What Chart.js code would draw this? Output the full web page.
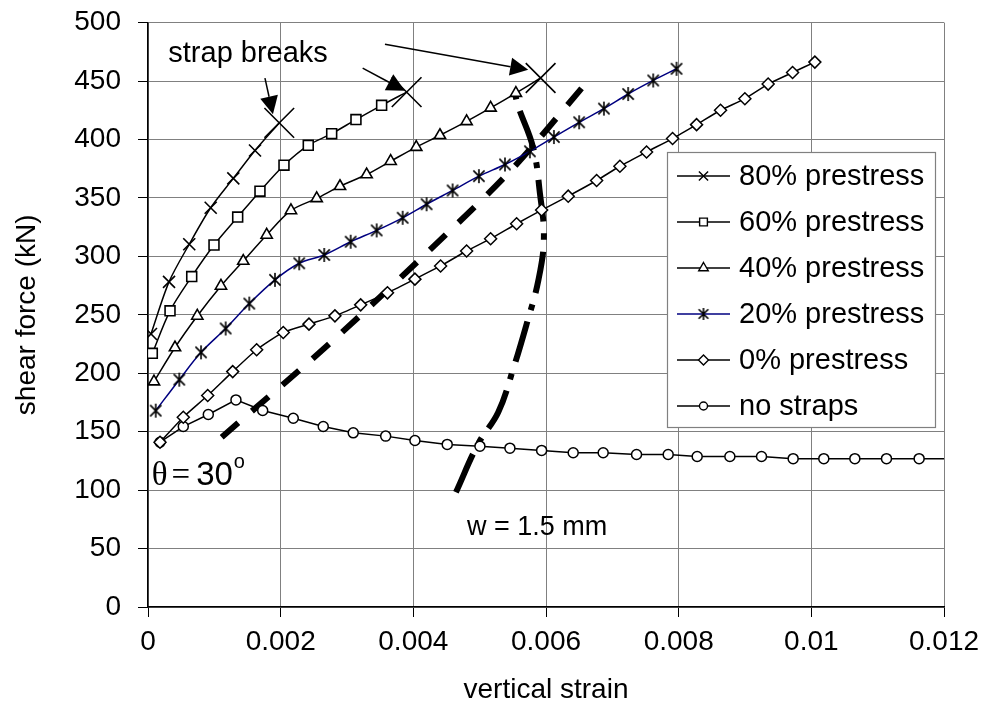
<!DOCTYPE html>
<html>
<head>
<meta charset="utf-8">
<script src="https://cdn.jsdelivr.net/npm/chart.js@4.4.1/dist/chart.umd.min.js"></script>
<style>
  body { margin: 0; background: #fff; }
  canvas { display: block; }
</style>
</head>
<body>
<canvas id="chart" width="990" height="713"></canvas>
<script>
// values (strain, shear force in kN)
const strain80 = [0.000045, 0.000317, 0.000622, 0.000945, 0.001286, 0.001613, 0.001979];
const shear80  = [233.6, 278.2, 310.4, 341.6, 366.7, 390.6, 414.2];

const strain60 = [0.000065, 0.000332, 0.000659, 0.000995, 0.001352, 0.001688, 0.00205, 0.002416, 0.002769, 0.003135, 0.003522, 0.003899];
const shear60  = [217, 253.4, 282.7, 309.7, 333.6, 355.8, 378, 395, 405, 417, 429.2, 440.5];

const strain40 = [0.00009, 0.000407, 0.000743, 0.0011, 0.001436, 0.001789, 0.002155, 0.002543, 0.002894, 0.003296, 0.003658, 0.004044, 0.004401, 0.004803, 0.005165, 0.005546, 0.005919];
const shear40  = [192.8, 222, 249, 274.7, 296, 318.3, 339.3, 349.6, 360, 370, 381.4, 393.5, 403.6, 415.5, 427, 439.7, 452.6];

const strain20 = [0.000116, 0.000472, 0.000799, 0.001171, 0.001527, 0.001914, 0.00228, 0.002657, 0.003055, 0.003447, 0.003839, 0.0042, 0.004592, 0.004989, 0.005381, 0.005757, 0.006119, 0.0065, 0.006873, 0.007239, 0.007616, 0.007968];
const shear20  = [168, 194.5, 217.9, 238.3, 259.6, 279.9, 294.1, 301.2, 312.5, 322.2, 333, 344.6, 356.4, 368.6, 378.6, 389.9, 402.1, 414.7, 426.4, 438.9, 450.5, 460.5];

const strain0 = [0.000181, 0.000532, 0.0009, 0.001277, 0.001638, 0.002039, 0.002427, 0.002818, 0.003206, 0.00361, 0.004024, 0.004411, 0.004803, 0.005165, 0.005557, 0.005934, 0.006335, 0.006763, 0.007114, 0.007516, 0.007908, 0.00827, 0.008631, 0.008998, 0.009349, 0.009717, 0.010053];
const shear0  = [141, 162.4, 180.9, 201.4, 220.1, 234.9, 242, 249.1, 258.5, 268.8, 280.5, 291.8, 304.6, 315.1, 327.9, 339.6, 351.5, 364.9, 377.1, 389.3, 400.8, 412.7, 425, 434.9, 447.4, 457.3, 466.2];

const strainNo = [0.000181, 0.000532, 0.000909, 0.001326, 0.001729, 0.00219, 0.002642, 0.003094, 0.003583, 0.004024, 0.004511, 0.005004, 0.005456, 0.005934, 0.00641, 0.006862, 0.007365, 0.007842, 0.008279, 0.008772, 0.009249, 0.009726, 0.010188, 0.010656, 0.011133, 0.011625, 0.012264];
const shearNo  = [141, 154.4, 164.7, 177.2, 168.1, 161.5, 154.4, 149, 146.2, 142.5, 139.1, 137.6, 135.9, 134, 132, 132, 130.5, 130.5, 128.8, 128.8, 128.8, 126.9, 126.9, 126.9, 126.9, 126.9, 126.9];

// thick guide lines: constant crack angle and constant crack width
const strainTheta = [0.001111, 0.002784, 0.004627, 0.005531, 0.006536];
const shearTheta  = [145.3, 227.8, 326, 377.2, 443.7];

const strainWidth = [0.004642, 0.004978, 0.00528, 0.005506, 0.005708, 0.005883, 0.005968, 0.005908, 0.005807, 0.005581, 0.005532];
const shearWidth  = [98.1, 139.7, 166.6, 203.7, 242.1, 279, 315.7, 354.1, 392.8, 428.3, 439.4];

const xTicks = [0, 0.002, 0.004, 0.006, 0.008, 0.01, 0.012];

const seriesLabels = ['80% prestress', '60% prestress', '40% prestress', '20% prestress', '0% prestress', 'no straps'];

// arrows "strap breaks": [x0, y0, x1, y1] in data units
const arrows = [
  [0.001763, 452.5, 0.001884, 421.5],
  [0.003236, 461.0, 0.003873, 441.7],
  [0.003572, 481.5, 0.005732, 459.6]
];

function pts(xs, ys) {
  return xs.map((x, i) => ({ x: x, y: ys[i] }));
}

function asterisk(r) {
  const c = document.createElement('canvas');
  c.width = c.height = 2 * r + 4;
  const g = c.getContext('2d');
  const m = r + 2;
  g.strokeStyle = '#000';
  g.lineWidth = 1.6;
  g.beginPath();
  g.moveTo(m, m - r); g.lineTo(m, m + r);
  const d = r * 0.8;
  g.moveTo(m - d, m - d); g.lineTo(m + d, m + d);
  g.moveTo(m - d, m + d); g.lineTo(m + d, m - d);
  g.stroke();
  return c;
}
const starImg = asterisk(7);
const starImgSmall = asterisk(6);

// last point of a strap series gets the big break cross
const isLast = ctx => ctx.dataIndex === ctx.dataset.data.length - 1;

function strapSeries(label, xs, ys, style, r) {
  return {
    label: label,
    data: pts(xs, ys),
    borderColor: '#000',
    borderWidth: 1.5,
    pointStyle: ctx => isLast(ctx) ? 'crossRot' : style,
    pointRadius: ctx => isLast(ctx) ? 21 : r,
    pointBorderColor: '#000',
    pointBackgroundColor: '#fff',
    pointBorderWidth: 1.6,
    tension: 0.3
  };
}

const datasets = [
  strapSeries(seriesLabels[0], strain80, shear80, 'crossRot', 8.5),
  strapSeries(seriesLabels[1], strain60, shear60, 'rect', 7),
  strapSeries(seriesLabels[2], strain40, shear40, 'triangle', 6.5),
  {
    label: seriesLabels[3],
    data: pts(strain20, shear20),
    borderColor: '#000080',
    borderWidth: 1.5,
    pointStyle: starImg,
    pointRadius: 7,
    tension: 0.3
  },
  {
    label: seriesLabels[4],
    data: pts(strain0, shear0),
    borderColor: '#000',
    borderWidth: 1.5,
    pointStyle: 'rectRot',
    pointRadius: 6,
    pointBorderColor: '#000',
    pointBackgroundColor: '#fff',
    pointBorderWidth: 1.5,
    tension: 0.2
  },
  {
    label: seriesLabels[5],
    data: pts(strainNo, shearNo),
    borderColor: '#000',
    borderWidth: 1.5,
    pointStyle: 'circle',
    pointRadius: ctx => isLast(ctx) ? 0 : 5,
    pointBorderColor: '#000',
    pointBackgroundColor: '#fff',
    pointBorderWidth: 1.5,
    tension: 0
  },
  {
    label: 'theta',
    data: pts(strainTheta, shearTheta),
    borderColor: '#000',
    borderWidth: 6,
    borderDash: [22, 18],
    borderCapStyle: 'butt',
    pointRadius: 0,
    tension: 0.3
  },
  {
    label: 'width',
    data: pts(strainWidth, shearWidth),
    borderColor: '#000',
    borderWidth: 6,
    borderDash: [42, 12, 6, 12],
    borderCapStyle: 'butt',
    pointRadius: 0,
    tension: 0.4
  }
];

function marker(g, style, x, y, r) {
  g.save();
  g.strokeStyle = '#000';
  g.fillStyle = '#fff';
  g.lineWidth = 1.4;
  g.beginPath();
  if (style === 'crossRot') {
    const d = r * Math.SQRT1_2;
    g.moveTo(x - d, y - d); g.lineTo(x + d, y + d);
    g.moveTo(x - d, y + d); g.lineTo(x + d, y - d);
    g.stroke();
  } else if (style === 'rect') {
    const d = r * Math.SQRT1_2;
    g.rect(x - d, y - d, 2 * d, 2 * d); g.fill(); g.stroke();
  } else if (style === 'triangle') {
    g.moveTo(x, y - r);
    g.lineTo(x + r * 0.866, y + r * 0.5);
    g.lineTo(x - r * 0.866, y + r * 0.5);
    g.closePath(); g.fill(); g.stroke();
  } else if (style === 'rectRot') {
    g.moveTo(x - r, y); g.lineTo(x, y - r); g.lineTo(x + r, y); g.lineTo(x, y + r);
    g.closePath(); g.fill(); g.stroke();
  } else if (style === 'circle') {
    g.arc(x, y, r, 0, Math.PI * 2); g.fill(); g.stroke();
  } else {
    g.drawImage(style, x - style.width / 2, y - style.height / 2);
  }
  g.restore();
}

const overlay = {
  id: 'overlay',
  afterDraw(chart) {
    const g = chart.ctx;
    const xs = chart.scales.x, ys = chart.scales.y;
    const px = v => xs.getPixelForValue(v);
    const py = v => ys.getPixelForValue(v);

    // arrows
    g.save();
    g.strokeStyle = '#000';
    g.fillStyle = '#000';
    g.lineWidth = 1.5;
    arrows.forEach(a => {
      const x0 = px(a[0]), y0 = py(a[1]), x1 = px(a[2]), y1 = py(a[3]);
      const ang = Math.atan2(y1 - y0, x1 - x0);
      const len = 18, half = 9;
      const bx = x1 - Math.cos(ang) * len, by = y1 - Math.sin(ang) * len;
      g.beginPath(); g.moveTo(x0, y0); g.lineTo(bx, by); g.stroke();
      g.beginPath();
      g.moveTo(x1, y1);
      g.lineTo(bx + Math.sin(ang) * half, by - Math.cos(ang) * half);
      g.lineTo(bx - Math.sin(ang) * half, by + Math.cos(ang) * half);
      g.closePath(); g.fill();
    });
    g.restore();

    // text annotations
    g.save();
    g.fillStyle = '#000';
    g.textBaseline = 'alphabetic';
    g.font = '29px "Liberation Sans", Arial, sans-serif';
    g.fillText('strap breaks', px(0.000306), py(466.7));
    g.font = '27px "Liberation Sans", Arial, sans-serif';
    g.fillText('w = 1.5 mm', px(0.004808), py(61.4));
    let tx = px(0.000056), ty = py(104.1);
    g.font = '33px "Liberation Serif", "Times New Roman", serif';
    g.fillText('\u03b8', tx, ty);
    tx += g.measureText('\u03b8').width + 4;
    g.fillText('=', tx, ty);
    tx += g.measureText('=').width + 6;
    g.font = '33px "Liberation Sans", Arial, sans-serif';
    g.fillText('30', tx, ty);
    tx += g.measureText('30').width + 1;
    g.font = '20px "Liberation Sans", Arial, sans-serif';
    g.fillText('o', tx, ty - 17);
    g.restore();

    // legend box inside the plot
    const styles = ['crossRot', 'rect', 'triangle', starImgSmall, 'rectRot', 'circle'];
    const sizes = [6.5, 5.5, 5.5, 6, 5, 4];
    const colors = ['#000', '#000', '#000', '#000080', '#000', '#000'];
    const lx = 667, ly = 152, lw = 268, lh = 275;
    g.save();
    g.fillStyle = '#fff';
    g.fillRect(lx, ly, lw, lh);
    g.strokeStyle = '#808080';
    g.lineWidth = 1.2;
    g.strokeRect(lx + 0.5, ly + 0.5, lw, lh);
    g.font = '29px "Liberation Sans", Arial, sans-serif';
    g.textBaseline = 'middle';
    seriesLabels.forEach((lab, i) => {
      const y = ly + 24 + i * 46;
      g.strokeStyle = colors[i];
      g.lineWidth = 1.5;
      g.beginPath(); g.moveTo(lx + 10, y); g.lineTo(lx + 63, y); g.stroke();
      marker(g, styles[i], lx + 36.5, y, sizes[i]);
      g.fillStyle = '#000';
      g.fillText(lab, lx + 72, y + 1);
    });
    g.restore();
  }
};

new Chart(document.getElementById('chart'), {
  type: 'scatter',
  data: { datasets: datasets },
  options: {
    responsive: false,
    animation: false,
    showLine: true,
    layout: { padding: { left: 0, right: 46, top: 21, bottom: 0 } },
    elements: { line: { fill: false } },
    plugins: {
      legend: { display: false },
      tooltip: { enabled: false }
    },
    scales: {
      x: {
        type: 'linear',
        min: 0,
        max: 0.012,
        afterBuildTicks: scale => { scale.ticks = xTicks.map(v => ({ value: v })); },
        afterFit: scale => { scale.height = 106; scale.paddingLeft = 0; scale.paddingRight = 0; },
        ticks: {
          color: '#000',
          padding: 8,
          maxRotation: 0,
          autoSkip: false,
          font: { family: '"Liberation Sans", Arial, sans-serif', size: 28 },
          callback: v => v === 0 ? '0' : String(+v.toFixed(3))
        },
        grid: { color: '#808080', lineWidth: 1, tickLength: 10, tickColor: '#000' },
        border: { color: '#000', width: 1.5 },
        title: {
          display: true,
          text: 'vertical strain',
          color: '#000',
          padding: { top: 0, bottom: 6 },
          font: { family: '"Liberation Sans", Arial, sans-serif', size: 28 }
        }
      },
      y: {
        min: 0,
        max: 500,
        ticks: {
          stepSize: 50,
          color: '#000',
          padding: 17,
          font: { family: '"Liberation Sans", Arial, sans-serif', size: 28 }
        },
        afterFit: scale => { scale.width = 148; scale.paddingTop = 0; scale.paddingBottom = 0; },
        grid: { color: '#808080', lineWidth: 1, tickLength: 10, tickColor: '#000' },
        border: { color: '#000', width: 1.5 },
        title: {
          display: true,
          text: 'shear force (kN)',
          color: '#000',
          padding: { top: 10, bottom: 0 },
          font: { family: '"Liberation Sans", Arial, sans-serif', size: 28 }
        }
      }
    }
  },
  plugins: [overlay]
});
</script>
</body>
</html>
